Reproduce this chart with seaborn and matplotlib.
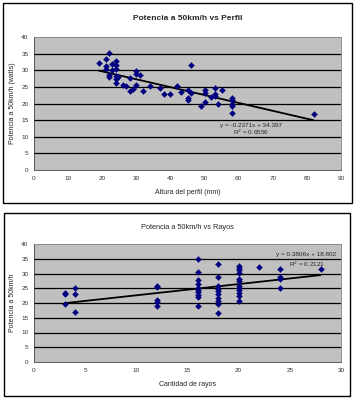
import matplotlib
matplotlib.use("Agg")
import matplotlib.pyplot as plt
from matplotlib.patches import Rectangle
import seaborn as sns
import numpy as np
import pandas as pd

# datos: potencia vs altura del perfil
perfil_mm = [19, 21, 21, 21, 22, 22, 22, 23, 23, 24, 24, 24, 24, 24, 24, 24.5, 26, 27, 28, 28,
             29, 30, 30, 30, 31, 32, 34, 37, 38, 40, 42, 43, 45, 45, 45, 46, 46, 49, 50, 50,
             50, 52, 53, 53, 53, 54, 55, 58, 58, 58, 58, 58, 82]
potencia_perfil = [32.2, 33.3, 31.3, 30.5, 35.2, 28.5, 28.0, 32.0, 30.0, 32.7, 31.5, 30.5, 28.2, 27.5,
                   26.2, 28.0, 25.5, 25.2, 23.8, 27.8, 24.5, 29.8, 28.8, 25.5, 28.5, 23.8, 25.2, 24.8,
                   23.0, 23.0, 25.2, 23.5, 24.2, 21.8, 21.2, 31.7, 23.2, 19.2, 24.0, 23.2, 20.5, 22.0,
                   24.8, 23.0, 22.3, 20.0, 24.2, 21.7, 21.0, 20.0, 19.2, 17.2, 16.7]

# datos: potencia vs cantidad de rayos
rayos = [3, 3, 3, 4, 4, 4, 12, 12, 12, 12, 12,
         16, 16, 16, 16, 16, 16, 16, 16, 16, 16,
         18, 18, 18, 18, 18, 18, 18, 18, 18, 18,
         20, 20, 20, 20, 20, 20, 20, 20, 20, 20, 20, 20,
         22, 24, 24, 24, 24, 28]
potencia_rayos = [23.4, 23.0, 19.7, 25.0, 23.0, 17.1, 25.6, 25.3, 21.1, 20.3, 19.1,
                  34.9, 30.6, 27.9, 26.4, 25.1, 24.5, 23.6, 22.8, 21.9, 19.1,
                  33.2, 28.7, 25.6, 24.7, 24.0, 23.0, 21.6, 20.8, 19.7, 16.6,
                  32.7, 31.9, 31.1, 30.2, 28.1, 27.6, 25.9, 25.1, 24.3, 23.4, 22.5, 20.6,
                  32.2, 31.5, 28.7, 28.2, 25.2, 31.5]

# lineas de tendencia (de las etiquetas del grafico)
tend_perfil = (-0.2371, 34.397, 0.6556)
tend_rayos = (0.3806, 18.802, 0.2121)

sns.set_style("white")
plt.rcParams['font.family'] = ['Liberation Sans', 'DejaVu Sans']

fig = plt.figure(figsize=(3.55, 4.0), dpi=100)

# marcos de cada grafico (estilo excel)
fig.patches.append(Rectangle((3 / 355, 1 - 203 / 400), 349 / 355, 200 / 400, transform=fig.transFigure,
                             fill=False, edgecolor='black', linewidth=1.0))
fig.patches.append(Rectangle((4 / 355, 1 - 396 / 400), 346 / 355, 183 / 400, transform=fig.transFigure,
                             fill=False, edgecolor='black', linewidth=1.0))

ax1 = fig.add_axes([34 / 355, 1 - 170 / 400, 307 / 355, 133 / 400])
ax2 = fig.add_axes([34 / 355, 1 - 362 / 400, 307 / 355, 118 / 400])


def panel(ax, x, y, tend, xmax, xstep, titulo, xlabel, ylabel, bold, eq_pos, r2_pos):
    df = pd.DataFrame({'x': x, 'y': y})
    ax.set_facecolor('#c0c0c0')
    for v in range(5, 40, 5):
        ax.axhline(v, color='black', linewidth=0.9, zorder=1)
    sns.scatterplot(data=df, x='x', y='y', ax=ax, marker='D', s=9, color='#000080',
                    edgecolor='#000080', linewidth=0.3, zorder=3)
    m, b, r2 = tend
    xt = np.array([min(x), max(x)])
    sns.lineplot(x=xt, y=m * xt + b, ax=ax, color='black', linewidth=1.3, zorder=2)
    signo = '-' if b < 0 else '+'
    ax.text(eq_pos[0], eq_pos[1], 'y = %gx %s %g' % (m, signo, abs(b)), fontsize=4.6, ha='center', va='center')
    ax.text(r2_pos[0], r2_pos[1], 'R$^2$ = %g' % r2, fontsize=4.6, ha='center', va='center')
    ax.set_xlim(0, xmax)
    ax.set_ylim(0, 40)
    ax.set_xticks(np.arange(0, xmax + 1, xstep))
    ax.set_yticks(np.arange(0, 41, 5))
    ax.tick_params(labelsize=4.6, length=2, width=0.5, pad=2, colors='#333333')
    ax.set_title(titulo, fontsize=6 if bold else 5.3, fontweight='bold' if bold else 'normal', pad=12 if bold else 11)
    ax.set_xlabel(xlabel, fontsize=5, labelpad=6)
    ax.set_ylabel(ylabel, fontsize=5, labelpad=4)
    for s in ['top', 'right']:
        ax.spines[s].set_color('#808080')
        ax.spines[s].set_linewidth(0.6)
    for s in ['left', 'bottom']:
        ax.spines[s].set_color('#404040')
        ax.spines[s].set_linewidth(0.6)


panel(ax1, perfil_mm, potencia_perfil, tend_perfil, 90, 10,
      'Potencia a 50km/h vs Perfil', 'Altura del perfil (mm)', 'Potencia a 50km/h (watts)', True,
      (63.5, 13.5), (63.5, 11.3))
panel(ax2, rayos, potencia_rayos, tend_rayos, 30, 5,
      'Potencia a 50km/h vs Rayos', 'Cantidad de rayos', 'Potencia a 50km/h', False,
      (26.6, 36.3), (26.7, 33.2))

fig.savefig('out.png', dpi=100)
